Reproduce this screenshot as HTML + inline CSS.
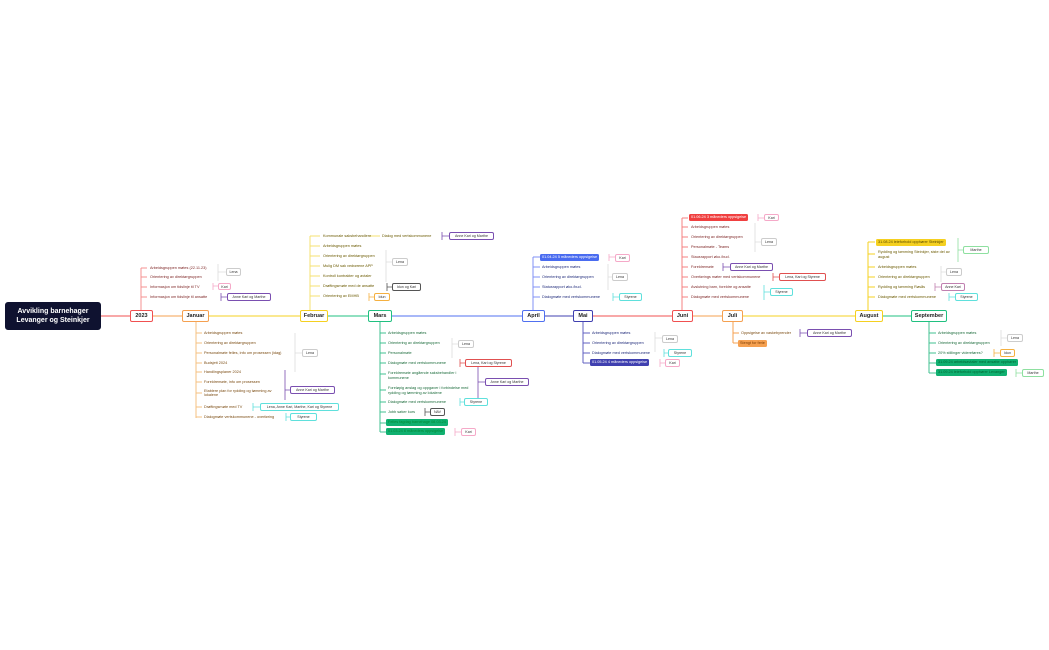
<!DOCTYPE html>
<html><head><meta charset="utf-8"><style>
body{margin:0;width:1049px;height:650px;background:#fff;position:relative;overflow:hidden;font-family:"Liberation Sans",sans-serif}
.t{position:absolute;font-size:3.8px;line-height:5px;white-space:nowrap}
.b{position:absolute;box-sizing:border-box;border:1px solid;border-radius:2px;background:#fff;font-size:5.5px;font-weight:bold;display:flex;align-items:center;justify-content:center;color:#222}
.g{position:absolute;box-sizing:border-box;border:0.8px solid #ccc;border-radius:2px;background:#fff;font-size:3.6px;display:flex;align-items:center;justify-content:center;color:#333;white-space:nowrap}
.f{position:absolute;border-radius:1.5px;font-size:3.8px;line-height:7px;padding:0 2px;color:#fff;white-space:nowrap}
.r{color:#7a1f1f}.o{color:#7a4a10}.y{color:#6b5a00}.gr{color:#1a6b3a}.bl{color:#1f2a7a}
.pu{border-color:#7a4fb0!important}.cy{border-color:#5fe0dc!important}.pk{border-color:#f5a9c8!important}.rd{border-color:#e05050!important}.or{border-color:#f5b040!important}.gn{border-color:#8ee0a0!important}.dk{border-color:#555!important}
</style></head><body>
<svg width="1049" height="650" style="position:absolute;left:0;top:0" fill="none" stroke-width="1">
<line x1="100" y1="316" x2="130" y2="316" stroke="#f05050"/>
<line x1="152" y1="316" x2="182" y2="316" stroke="#f5a050"/>
<line x1="209" y1="316" x2="300" y2="316" stroke="#f5d020"/>
<line x1="328" y1="316" x2="368" y2="316" stroke="#20c080"/>
<line x1="392" y1="316" x2="522" y2="316" stroke="#5070f0"/>
<line x1="545" y1="316" x2="573" y2="316" stroke="#4040b0"/>
<line x1="593" y1="316" x2="672" y2="316" stroke="#f05050"/>
<line x1="693" y1="316" x2="722" y2="316" stroke="#f5a050"/>
<line x1="743" y1="316" x2="855" y2="316" stroke="#f5d020"/>
<line x1="883" y1="316" x2="911" y2="316" stroke="#20c080"/>
<path d="M141 310V268M141 268h6M141 277h6M141 287h6M141 297h6" stroke="#f59090"/>
<path d="M196 322V418M196 333h6M196 343h6M196 353h6M196 363h6M196 372h6M196 382h6M196 393h6M196 407h6M196 417h6" stroke="#f5c080"/>
<path d="M310 310V236M310 236h10M310 246h10M310 256h10M310 266h10M310 276h10M310 286h10M310 296h10M370 236h10" stroke="#f5e070"/>
<path d="M380 322V432M380 333h6M380 343h6M380 353h6M380 363h6M380 374h6M380 390h6M380 402h6M380 412h6M380 423h6M380 432h6" stroke="#40c090"/>
<path d="M533 310V257M533 257h7M533 267h7M533 277h7M533 287h7M533 297h7" stroke="#8090f5"/>
<path d="M583 322V363M583 333h7M583 343h7M583 353h7M583 363h7" stroke="#6060c0"/>
<path d="M682 310V218M682 218h6M682 227h6M682 237h6M682 247h6M682 257h6M682 267h6M682 277h6M682 287h6M682 297h6" stroke="#f58080"/>
<path d="M733 322V343M733 333h6M733 343h5" stroke="#f5a050"/>
<path d="M868 310V242M868 242h7M868 254h7M868 267h7M868 277h7M868 287h7M868 297h7" stroke="#f5d020"/>
<path d="M929 322V373M929 333h7M929 343h7M929 353h7M929 363h7M929 373h7" stroke="#40c090"/>
<g stroke="#ddd" stroke-width="0.8">
<path d="M218 264V281M218 272h8"/><path d="M295 333V372M295 353h7"/><path d="M386 250V282M386 262h6"/>
<path d="M452 338V358M452 344h6"/><path d="M608 264V290M608 277h4"/><path d="M655 332V352M655 338h7"/>
<path d="M755 223V252M755 242h6"/><path d="M941 266V282M941 272h5"/><path d="M1001 330V346M1001 338h6"/>
</g>
<g stroke-width="0.8">
<path d="M213 283V290M213 286h5" stroke="#f5a9c8"/><path d="M221 293V301M221 297h6" stroke="#7a4fb0"/>
<path d="M285 370V400M285 390h5" stroke="#7a4fb0"/><path d="M253 403V411M253 407h7" stroke="#5fe0dc"/><path d="M286 413V421M286 417h4" stroke="#5fe0dc"/>
<path d="M442 232V240M442 236h7" stroke="#7a4fb0"/><path d="M387 283V291M387 287h5" stroke="#555"/><path d="M369 293V301M369 297h5" stroke="#f5b040"/>
<path d="M460 359V367M460 363h5" stroke="#e05050"/><path d="M478 367V400M478 382h7" stroke="#7a4fb0"/><path d="M460 398V406M460 402h4" stroke="#5fe0dc"/><path d="M425 408V416M425 412h5" stroke="#555"/><path d="M455 428V436M455 432h6" stroke="#f5a9c8"/>
<path d="M609 254V261M609 257h6" stroke="#f5a9c8"/><path d="M613 293V301M613 297h6" stroke="#5fe0dc"/>
<path d="M664 349V357M664 353h4" stroke="#5fe0dc"/><path d="M660 359V367M660 363h5" stroke="#f5a9c8"/>
<path d="M758 214V221M758 218h6" stroke="#f5a9c8"/><path d="M723 263V271M723 267h7" stroke="#7a4fb0"/><path d="M773 273V281M773 277h6" stroke="#e05050"/><path d="M764 285V300M764 292h6" stroke="#5fe0dc"/>
<path d="M800 329V337M800 333h7" stroke="#7a4fb0"/>
<path d="M958 238V262M958 250h5" stroke="#8ee0a0"/><path d="M935 283V291M935 287h6" stroke="#c080b0"/><path d="M949 293V301M949 297h6" stroke="#5fe0dc"/>
<path d="M994 349V357M994 353h6" stroke="#f5b040"/><path d="M1016 369V377M1016 373h6" stroke="#8ee0a0"/>
</g>
</svg>

<div class="b" style="left:5px;top:302px;width:96px;height:28px;background:#0f1230;border-color:#0f1230;color:#fff;font-size:7px;text-align:center;line-height:9px;border-radius:3px">Avvikling barnehager<br>Levanger og Steinkjer</div>
<div class="b" style="left:130px;top:310px;width:23px;height:12px;border-color:#f05050">2023</div>
<div class="b" style="left:182px;top:310px;width:27px;height:12px;border-color:#f5a050">Januar</div>
<div class="b" style="left:300px;top:310px;width:28px;height:12px;border-color:#f5d020">Februar</div>
<div class="b" style="left:368px;top:310px;width:24px;height:12px;border-color:#20c080">Mars</div>
<div class="b" style="left:522px;top:310px;width:23px;height:12px;border-color:#5070f0">April</div>
<div class="b" style="left:573px;top:310px;width:20px;height:12px;border-color:#4040b0">Mai</div>
<div class="b" style="left:672px;top:310px;width:21px;height:12px;border-color:#f05050">Juni</div>
<div class="b" style="left:722px;top:310px;width:21px;height:12px;border-color:#f5a050">Juli</div>
<div class="b" style="left:855px;top:310px;width:28px;height:12px;border-color:#f5d020">August</div>
<div class="b" style="left:911px;top:310px;width:36px;height:12px;border-color:#20c080">September</div>

<div class="t r" style="left:150px;top:265.5px">Arbeidsgruppen møtes (22.11.23)</div>
<div class="t r" style="left:150px;top:274.5px">Orientering av direktørgruppen</div>
<div class="t r" style="left:150px;top:284.5px">Informasjon om tidslinje til TV</div>
<div class="t r" style="left:150px;top:294.5px">Informasjon om tidslinje til ansatte</div>
<div class="g" style="left:226px;top:268px;width:15px;height:8px">Lena</div>
<div class="g pk" style="left:218px;top:283px;width:13px;height:7px">Kari</div>
<div class="g pu" style="left:227px;top:293px;width:44px;height:8px">Anne Kari og Marthe</div>

<div class="t o" style="left:204px;top:330.5px">Arbeidsgruppen møtes</div>
<div class="t o" style="left:204px;top:340.5px">Orientering av direktørgruppen</div>
<div class="t o" style="left:204px;top:350.5px">Personalmøte felles, info om prosessen (idag)</div>
<div class="t o" style="left:204px;top:360.5px">Budsjett 2024</div>
<div class="t o" style="left:204px;top:369.5px">Handlingsplaner 2024</div>
<div class="t o" style="left:204px;top:379.5px">Foreldremøte, info om prosessen</div>
<div class="t o" style="left:204px;top:388.5px;line-height:4.5px">Etablere plan for rydding og tømming av<br>lokalene</div>
<div class="t o" style="left:204px;top:404.5px">Drøftingsmøte med TV</div>
<div class="t o" style="left:204px;top:414.5px">Dialogmøte vertskommunene - overføring</div>
<div class="g" style="left:302px;top:349px;width:16px;height:8px">Lena</div>
<div class="g pu" style="left:290px;top:386px;width:45px;height:8px">Anne Kari og Marthe</div>
<div class="g cy" style="left:260px;top:403px;width:79px;height:8px">Lena, Anne Kari, Marthe, Kari og Styrene</div>
<div class="g cy" style="left:290px;top:413px;width:27px;height:8px">Styrene</div>

<div class="t y" style="left:323px;top:233.5px">Kommunale saksbehandlere</div>
<div class="t y" style="left:382px;top:233.5px">Dialog med vertskommunene</div>
<div class="t y" style="left:323px;top:243.5px">Arbeidsgruppen møtes</div>
<div class="t y" style="left:323px;top:253.5px">Orientering av direktørgruppen</div>
<div class="t y" style="left:323px;top:263.5px">Mulig DM sak vedrørene APP</div>
<div class="t y" style="left:323px;top:273.5px">Kontroll kontrakter og avtaler</div>
<div class="t y" style="left:323px;top:283.5px">Drøftingsmøte med de ansatte</div>
<div class="t y" style="left:323px;top:293.5px">Orientering av EMHB</div>
<div class="g pu" style="left:449px;top:232px;width:45px;height:8px">Anne Kari og Marthe</div>
<div class="g" style="left:392px;top:258px;width:16px;height:8px">Lena</div>
<div class="g dk" style="left:392px;top:283px;width:29px;height:8px">Idun og Kari</div>
<div class="g or" style="left:374px;top:293px;width:16px;height:8px">Idun</div>

<div class="t gr" style="left:388px;top:330.5px">Arbeidsgruppen møtes</div>
<div class="t gr" style="left:388px;top:340.5px">Orientering av direktørgruppen</div>
<div class="t gr" style="left:388px;top:350.5px">Personalmøte</div>
<div class="t gr" style="left:388px;top:360.5px">Dialogmøte med vertskommunene</div>
<div class="t gr" style="left:388px;top:371px;line-height:4.5px">Foreldremøte angående saksbehandler i<br>kommunene</div>
<div class="t gr" style="left:388px;top:386px;line-height:4.5px">Foreløpig anslag og oppgaver i forbindelse med<br>rydding og tømming av lokalene</div>
<div class="t gr" style="left:388px;top:399.5px">Dialogmøte med vertskommunene</div>
<div class="t gr" style="left:388px;top:409.5px">Jobb søker kurs</div>
<div class="f" style="left:386px;top:419px;background:#10b070;color:#083">Felles fagdag barnehage 08.03.24</div>
<div class="f" style="left:386px;top:428px;background:#10b070;color:#083">01.03.24 6 måneders oppsigelse</div>
<div class="g" style="left:458px;top:340px;width:16px;height:8px">Lena</div>
<div class="g rd" style="left:465px;top:359px;width:47px;height:8px">Lena, Kari og Styrene</div>
<div class="g pu" style="left:485px;top:378px;width:44px;height:8px">Anne Kari og Marthe</div>
<div class="g cy" style="left:464px;top:398px;width:24px;height:8px">Styrene</div>
<div class="g dk" style="left:430px;top:408px;width:15px;height:8px">NAV</div>
<div class="g pk" style="left:461px;top:428px;width:15px;height:8px">Kari</div>

<div class="f" style="left:540px;top:254px;background:#4a6cf0;line-height:7px">01.04.24 5 måneders oppsigelse</div>
<div class="t bl" style="left:542px;top:264.5px">Arbeidsgruppen møtes</div>
<div class="t bl" style="left:542px;top:274.5px">Orientering av direktørgruppen</div>
<div class="t bl" style="left:542px;top:284.5px">Statusrapport øko./bud.</div>
<div class="t bl" style="left:542px;top:294.5px">Dialogmøte med vertskommunene</div>
<div class="g pk" style="left:615px;top:254px;width:15px;height:8px">Kari</div>
<div class="g" style="left:612px;top:273px;width:16px;height:8px">Lena</div>
<div class="g cy" style="left:619px;top:293px;width:23px;height:8px">Styrene</div>

<div class="t bl" style="left:592px;top:330.5px">Arbeidsgruppen møtes</div>
<div class="t bl" style="left:592px;top:340.5px">Orientering av direktørgruppen</div>
<div class="t bl" style="left:592px;top:350.5px">Dialogmøte med vertskommunene</div>
<div class="f" style="left:590px;top:359px;background:#4040b0">01.05.24 4 måneders oppsigelse</div>
<div class="g" style="left:662px;top:335px;width:16px;height:8px">Lena</div>
<div class="g cy" style="left:668px;top:349px;width:24px;height:8px">Styrene</div>
<div class="g pk" style="left:665px;top:359px;width:15px;height:8px">Kari</div>

<div class="f" style="left:689px;top:214px;background:#f04040">01.06.24 3 måneders oppsigelse</div>
<div class="t r" style="left:691px;top:224.5px">Arbeidsgruppen møtes</div>
<div class="t r" style="left:691px;top:234.5px">Orientering av direktørgruppen</div>
<div class="t r" style="left:691px;top:244.5px">Personalmøte - Teams</div>
<div class="t r" style="left:691px;top:254.5px">Stausrapport øko./bud.</div>
<div class="t r" style="left:691px;top:264.5px">Foreldremøte</div>
<div class="t r" style="left:691px;top:274.5px">Overførings møter med vertskommunene</div>
<div class="t r" style="left:691px;top:284.5px">Avslutning barn, foreldre og ansatte</div>
<div class="t r" style="left:691px;top:294.5px">Dialogmøte med vertskommunene</div>
<div class="g pk" style="left:764px;top:214px;width:15px;height:7px">Kari</div>
<div class="g" style="left:761px;top:238px;width:16px;height:8px">Lena</div>
<div class="g pu" style="left:730px;top:263px;width:43px;height:8px">Anne Kari og Marthe</div>
<div class="g rd" style="left:779px;top:273px;width:47px;height:8px">Lena, Kari og Styrene</div>
<div class="g cy" style="left:770px;top:288px;width:23px;height:8px">Styrene</div>

<div class="t o" style="left:741px;top:330.5px">Oppsigelse av vaskebyrender</div>
<div class="f" style="left:738px;top:339.5px;background:#f5a050;color:#7a3a00;line-height:7px">Stengt for ferie</div>
<div class="g pu" style="left:807px;top:329px;width:45px;height:8px">Anne Kari og Marthe</div>

<div class="f" style="left:876px;top:239px;background:#f5d020;color:#5a4a00">31.08.24 leieforhold opphører Steinkjer</div>
<div class="t y" style="left:878px;top:250px;line-height:4.5px">Rydding og tømming Steinkjer, siste del av<br>august</div>
<div class="t y" style="left:878px;top:264.5px">Arbeidsgruppen møtes</div>
<div class="t y" style="left:878px;top:274.5px">Orientering av direktørgruppen</div>
<div class="t y" style="left:878px;top:284.5px">Rydding og tømming Røsås</div>
<div class="t y" style="left:878px;top:294.5px">Dialogmøte med vertskommunene</div>
<div class="g gn" style="left:963px;top:246px;width:26px;height:8px">Marthe</div>
<div class="g" style="left:946px;top:268px;width:16px;height:8px">Lena</div>
<div class="g" style="left:941px;top:283px;width:24px;height:8px;border-color:#c080b0">Anne Kari</div>
<div class="g cy" style="left:955px;top:293px;width:23px;height:8px">Styrene</div>

<div class="t gr" style="left:938px;top:330.5px">Arbeidsgruppen møtes</div>
<div class="t gr" style="left:938px;top:340.5px">Orientering av direktørgruppen</div>
<div class="t gr" style="left:938px;top:350.5px">20% stillinger videreføres?</div>
<div class="f" style="left:936px;top:359px;background:#10b070;color:#063">31.09.24 arbeidsavtaler med ansatte opphører</div>
<div class="f" style="left:936px;top:369px;background:#10b070;color:#063">31.09.24 leieforhold opphører Levanger</div>
<div class="g" style="left:1007px;top:334px;width:16px;height:8px">Lena</div>
<div class="g or" style="left:1000px;top:349px;width:15px;height:8px">Idun</div>
<div class="g gn" style="left:1022px;top:369px;width:22px;height:8px">Marthe</div>
</body></html>
